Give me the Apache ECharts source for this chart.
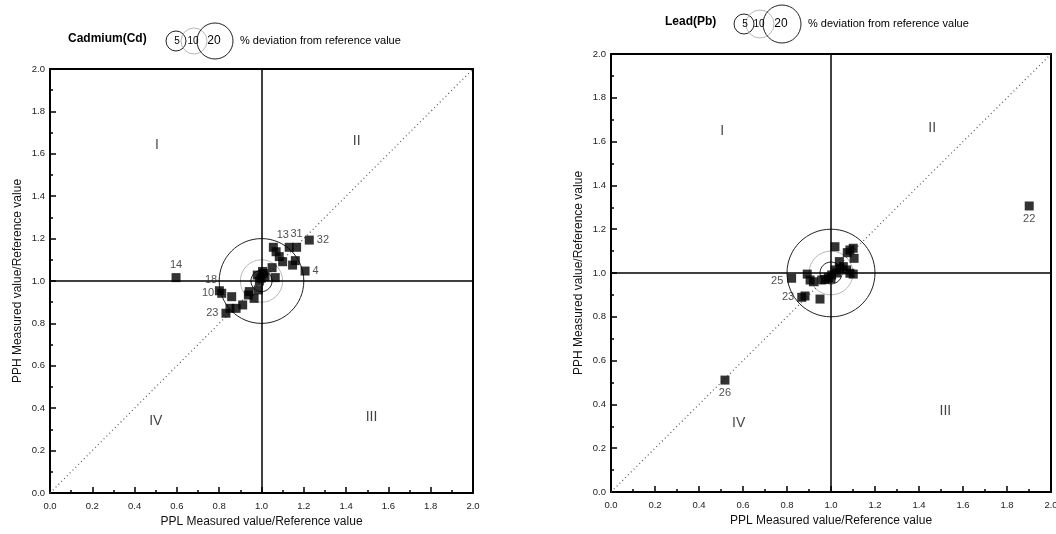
<!DOCTYPE html>
<html>
<head>
<meta charset="utf-8">
<script src="https://cdn.jsdelivr.net/npm/echarts@6/dist/echarts.min.js"></script>
<style>
html,body{margin:0;padding:0;background:#fff;}
#c{width:1056px;height:534px;}
</style>
</head>
<body>
<div id="c"></div>
<script>
// ---- data ----
const cdX = [0.596, 1.226, 1.131, 1.166, 1.206, 1.056, 1.069, 1.084, 1.100, 1.160, 1.147, 1.050, 1.065, 0.980, 1.009, 0.998, 1.017, 0.801, 0.812, 0.859, 0.942, 0.938, 0.965, 0.985, 0.911, 0.880, 0.851, 0.832, 0.990, 1.005];
const cdY = [1.016, 1.193, 1.159, 1.159, 1.047, 1.159, 1.138, 1.115, 1.091, 1.096, 1.075, 1.063, 1.016, 1.028, 1.036, 1.013, 1.020, 0.954, 0.942, 0.926, 0.950, 0.934, 0.918, 0.958, 0.887, 0.871, 0.871, 0.848, 1.000, 1.045];
const cdLabelIndex = [0, 1, 2, 3, 4, 17, 18, 27];
const cdLabelText  = ['14', '32', '13', '31', '4', '18', '10', '23'];

const pbX = [1.018, 1.101, 1.086, 1.074, 1.105, 1.038, 1.056, 1.071, 1.086, 1.101, 1.018, 1.003, 0.988, 0.973, 0.958, 1.025, 0.892, 0.905, 0.920, 0.821, 0.867, 0.882, 0.950, 1.901, 0.518, 1.000, 1.040];
const pbY = [1.120, 1.113, 1.105, 1.093, 1.067, 1.052, 1.029, 1.014, 0.999, 0.995, 1.014, 0.991, 0.980, 0.971, 0.968, 1.000, 0.995, 0.968, 0.960, 0.976, 0.889, 0.895, 0.881, 1.306, 0.511, 0.975, 1.020];
const pbLabelIndex = [19, 20, 23, 24];
const pbLabelText  = ['25', '23', '22', '26'];

const deviationRadii = [0.05, 0.1, 0.2];
const deviationLegend = ['5', '10', '20'];

const romanNames = ['I', 'II', 'III', 'IV'];
const cdRomanX = [0.506, 1.45, 1.52, 0.50];
const cdRomanY = [1.64, 1.66, 0.36, 0.34];
const pbRomanX = [0.505, 1.46, 1.52, 0.58];
const pbRomanY = [1.65, 1.66, 0.37, 0.315];

const xName = 'PPL Measured value/Reference value';
const yName = 'PPH Measured value/Reference value';

// ---- styles (kept separate from data) ----
const FONT = 'Liberation Sans, Arial, sans-serif';
const cdLabelPos = {'14':'top','32':'right','13':['-8','-13'],'31':'top','4':'right','18':['-10','-12'],'10':'left','23':'left'};
const pbLabelPos = {'25':['-16','2'],'23':'left','22':'bottom','26':'bottom'};
const circleColors = ['#222', '#b8b8b8', '#222'];

function buildPoints(xs, ys, idxs, texts, posMap) {
  return xs.map((x, i) => {
    const k = idxs.indexOf(i);
    const d = {value: [x, ys[i]]};
    if (k >= 0) {
      const p = posMap[texts[k]];
      const lab = {show: true, formatter: texts[k], color: '#222', fontSize: 11, fontFamily: FONT, distance: 3};
      if (Array.isArray(p)) { lab.position = [Number(p[0]), Number(p[1])]; }
      else lab.position = p;
      d.label = lab;
    }
    return d;
  });
}

function valueAxis(gridIndex, pos, isX) {
  const main = (pos === 'bottom' || pos === 'left');
  return {
    type: 'value', gridIndex, position: pos, min: 0, max: 2, interval: 0.2,
    name: main ? (isX ? xName : yName) : '',
    nameLocation: 'middle',
    nameGap: isX ? 22 : 26,
    nameTextStyle: {fontSize: 12, fontFamily: FONT, color: '#111'},
    axisLine: {show: true, onZero: false, lineStyle: {color: '#000', width: 2}},
    axisTick: {show: main, inside: true, length: 6, lineStyle: {color: '#000', width: 1.5}},
    minorTick: {show: main, splitNumber: 2, length: 3, lineStyle: {color: '#000', width: 1.5}},
    axisLabel: {show: main, fontSize: 9.5, fontFamily: FONT, color: '#222', margin: isX ? 8 : 5,
      formatter: v => v.toFixed(1)},
    splitLine: {show: false}, minorSplitLine: {show: false}
  };
}

function circleSeries(gi) {
  return {
    type: 'custom', xAxisIndex: gi * 2, yAxisIndex: gi * 2, silent: true, z: 3,
    data: deviationRadii.map((r, i) => [r, i]),
    renderItem: (params, api) => {
      const c = api.coord([1, 1]);
      const rx = api.size([api.value(0), 0])[0];
      const ry = api.size([0, api.value(0)])[1];
      return {type: 'ellipse', shape: {cx: c[0], cy: c[1], rx: rx, ry: ry},
        style: {fill: 'none', stroke: circleColors[api.value(1)], lineWidth: 1}};
    }
  };
}

function refLines(gi) {
  return {
    type: 'scatter', xAxisIndex: gi * 2, yAxisIndex: gi * 2, data: [], silent: true,
    markLine: {
      silent: true, symbol: 'none', label: {show: false}, animation: false,
      data: [
        {xAxis: 1, lineStyle: {color: '#000', width: 1.5, type: 'solid'}},
        {yAxis: 1, lineStyle: {color: '#000', width: 1.5, type: 'solid'}},
        [{coord: [0, 0]}, {coord: [2, 2], lineStyle: {color: '#555', width: 1.2, type: [1, 3]}}]
      ]
    }
  };
}

function romanSeries(gi, xs, ys) {
  return {
    type: 'scatter', xAxisIndex: gi * 2, yAxisIndex: gi * 2, symbolSize: 0, silent: true,
    data: romanNames.map((n, i) => ({name: n, value: [xs[i], ys[i]]})),
    label: {show: true, position: 'inside', formatter: p => p.name, fontSize: 14, color: '#111', fontFamily: FONT}
  };
}

function pointSeries(gi, data) {
  return {
    type: 'scatter', xAxisIndex: gi * 2, yAxisIndex: gi * 2, symbol: 'rect', symbolSize: 9, z: 5,
    itemStyle: {color: '#000'}, data: data
  };
}

function legendGraphic(titleText, titleX, y, circles, textX) {
  const els = [{type: 'text', left: titleX, top: y - 8, style: {text: titleText, font: 'bold 12px ' + FONT, fill: '#000'}}];
  circles.forEach((c, i) => {
    els.push({type: 'circle', shape: {cx: c[0], cy: y, r: c[1]}, style: {fill: 'none', stroke: circleColors[i], lineWidth: 1}});
  });
  circles.forEach((c, i) => {
    els.push({type: 'text', x: c[2], y: y, style: {text: deviationLegend[i], font: (i === 2 ? 12 : 10) + 'px ' + FONT, fill: '#000', align: 'center', verticalAlign: 'middle'}});
  });
  els.push({type: 'text', x: textX, y: y, style: {text: '% deviation from reference value', font: '11px ' + FONT, fill: '#000', verticalAlign: 'middle'}});
  return els;
}

const chart = echarts.init(document.getElementById('c'));
chart.setOption({
  animation: false,
  backgroundColor: '#fff',
  grid: [
    {left: 50, top: 69, width: 423, height: 424, outerBoundsMode: 'none', containLabel: false},
    {left: 611, top: 54, width: 440, height: 438, outerBoundsMode: 'none', containLabel: false}
  ],
  xAxis: [valueAxis(0, 'bottom', true), valueAxis(0, 'top', true), valueAxis(1, 'bottom', true), valueAxis(1, 'top', true)],
  yAxis: [valueAxis(0, 'left', false), valueAxis(0, 'right', false), valueAxis(1, 'left', false), valueAxis(1, 'right', false)],
  graphic: legendGraphic('Cadmium(Cd)', 68, 41, [[176, 10, 177], [194, 13, 193], [215, 18, 214]], 240)
    .concat(legendGraphic('Lead(Pb)', 665, 24, [[744, 10, 745], [760, 14, 759], [782, 19, 781]], 808)),
  series: [
    refLines(0), circleSeries(0), romanSeries(0, cdRomanX, cdRomanY),
    pointSeries(0, buildPoints(cdX, cdY, cdLabelIndex, cdLabelText, cdLabelPos)),
    refLines(1), circleSeries(1), romanSeries(1, pbRomanX, pbRomanY),
    pointSeries(1, buildPoints(pbX, pbY, pbLabelIndex, pbLabelText, pbLabelPos))
  ]
});
</script>
</body>
</html>
